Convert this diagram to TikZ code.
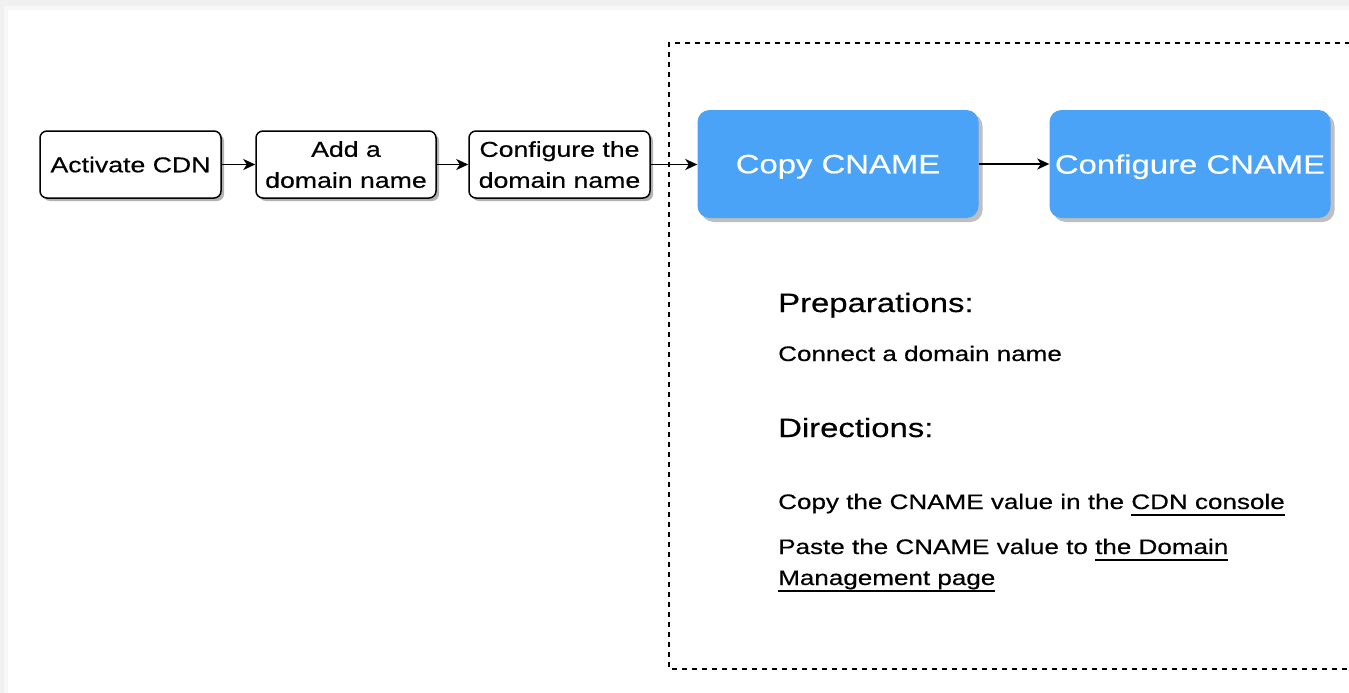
\documentclass[tikz,border=0pt]{standalone}
\usepackage{fontspec}
\setmainfont{Liberation Sans}[FakeStretch=1.24, FakeBold=0.4]
\usetikzlibrary{arrows.meta,shadows}
\definecolor{cblue}{RGB}{74,163,247}
\definecolor{outerbg}{RGB}{240,240,240}
\newcommand\myul[1]{\setbox0\hbox{#1}\rlap{\rule[-6.5pt]{\wd0}{1.6pt}}\box0}
\tikzset{
  stepbox/.style={draw=black, line width=1.5pt, rounded corners=7pt, fill=white,
    minimum width=181pt, minimum height=67pt, inner sep=0pt, align=center,
    text depth=-6pt, font=\fontsize{21.5}{31}\selectfont,
    drop shadow={shadow xshift=3pt, shadow yshift=-3pt, fill=black!30, opacity=1}},
  bluebox/.style={fill=cblue, rounded corners=12pt, text=white,
    minimum width=281pt, minimum height=108pt, inner sep=0pt, align=center,
    text depth=-7pt, font=\fontsize{26.5}{31}\selectfont,
    drop shadow={shadow xshift=4pt, shadow yshift=-4pt, fill=black!25, opacity=1}},
  conn/.style={line width=1.8pt, -{Stealth[length=12pt,width=11pt,inset=3.5pt]}},
  heading/.style={anchor=base west, inner sep=0pt, font=\fontsize{26.5}{31}\selectfont},
  body/.style={anchor=base west, inner sep=0pt, font=\fontsize{21}{31}\selectfont},
  frame/.style={line width=1.3pt, dash pattern=on 5pt off 5pt}
}
\begin{document}
\begin{tikzpicture}[x=1pt, y=-1pt]
\useasboundingbox (0,0) rectangle (1349,693);
\fill[outerbg] (0,0) rectangle (1349,693);
\fill[black!3] (4,6) rectangle (1349,693);
\fill[white] (8,10) rectangle (1349,693);
\draw[frame] (1360,43) -- (669,43) -- (669,669) -- (1360,669);

\node[stepbox, text depth=-2pt] (b1) at (130.5,164.5) {Activate CDN};
\node[stepbox, minimum width=180pt] (b2) at (346,164.5) {Add a\\domain name};
\node[stepbox] (b3) at (559.5,164.5) {Configure the\\domain name};
\node[bluebox] (c1) at (838,164) {Copy CNAME};
\node[bluebox] (c2) at (1190,164) {Configure CNAME};

\draw[conn] (b1) -- (b2);
\draw[conn] (b2) -- (b3);
\draw[conn] (b3.east) -- (c1.west |- b3.east);
\draw[conn] (c1) -- (c2);

\node[heading] (prep) at (778,312) {Preparations:};
\node[body] (conn) at (778,361) {Connect a domain name};
\node[heading] (dir) at (778,437) {Directions:};
\node[body] (copy) at (778,509) {Copy the CNAME value in the \myul{CDN console}};
\node[body] (paste) at (778,554) {Paste the CNAME value to \myul{the Domain}};
\node[body] (manage) at (778,585) {\myul{Management page}};
\end{tikzpicture}
\end{document}
